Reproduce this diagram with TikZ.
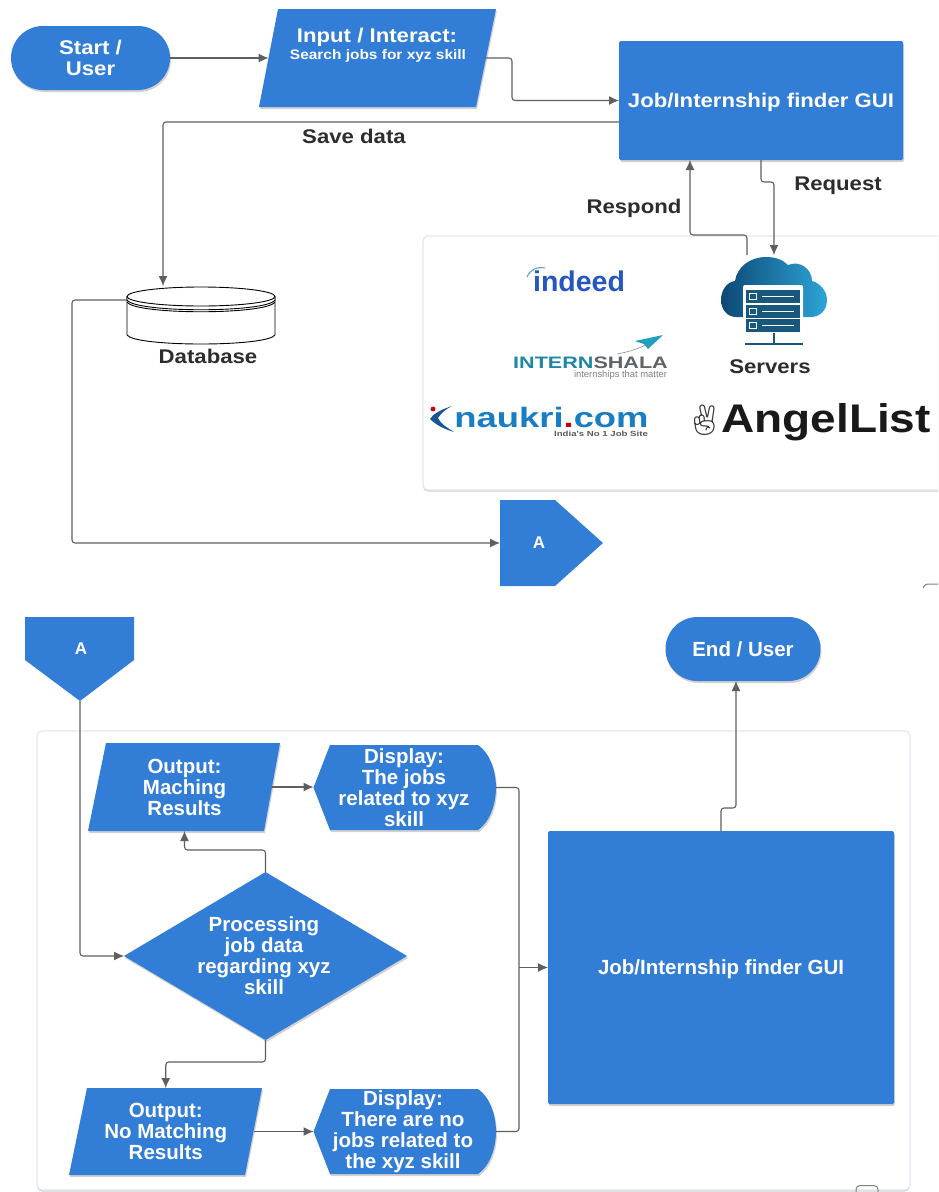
\documentclass[tikz,border=0pt]{standalone}
\usepackage{fontspec}
\setmainfont{Liberation Sans}
\newfontfamily\emojifont{Noto Emoji}
\newfontfamily\widefont[FakeStretch=1.12]{Liberation Sans}
\newfontfamily\logofont[FakeStretch=1.3]{Liberation Sans}
\newfontfamily\angelfont[FakeStretch=1.15]{Liberation Sans}
\usetikzlibrary{arrows.meta,shapes.geometric,shapes.misc,shadows}
\definecolor{flowblue}{RGB}{50,125,214}
\definecolor{connline}{RGB}{95,95,95}
\definecolor{panelline}{RGB}{226,232,238}
\definecolor{labelink}{RGB}{45,45,45}
\definecolor{cloudA}{RGB}{12,72,118}
\definecolor{cloudB}{RGB}{45,165,215}
\definecolor{rack}{RGB}{25,88,125}
\definecolor{indeedblue}{RGB}{38,87,190}
\definecolor{internteal}{RGB}{30,135,165}
\definecolor{interngray}{RGB}{95,100,105}
\definecolor{planeteal}{RGB}{30,160,190}
\definecolor{naukriblue}{RGB}{25,125,195}
\definecolor{swoosh}{RGB}{25,85,150}
\tikzset{
  softshadow/.style={drop shadow={shadow xshift=1pt,shadow yshift=-2pt,opacity=.18,fill=black}},
  blueshape/.style={fill=flowblue,draw=none,softshadow,inner sep=0pt,outer sep=0pt},
  conn/.style={draw=connline,line width=1.1pt,rounded corners=3pt,-{Latex[length=10pt,width=9pt]}},
  connplain/.style={draw=connline,line width=1.1pt,rounded corners=3pt},
  wt/.style={text=white,font=\fontsize{20.5}{21}\selectfont\bfseries,align=center,inner sep=0pt},
  wtup/.style={text=white,font=\widefont\fontsize{19.8}{21}\selectfont\bfseries,align=center,inner sep=0pt},
  lbl/.style={text=labelink,font=\widefont\fontsize{19.8}{21}\selectfont\bfseries,align=center,inner sep=0pt},
  panel/.style={fill=white,draw=panelline,line width=1.2pt,rounded corners=5pt,drop shadow={shadow xshift=0pt,shadow yshift=-1.5pt,opacity=.18,fill=black}},
  parabox/.style={rectangle,outer sep=0pt},
  terminator/.style={blueshape,rounded rectangle,minimum width=155pt,minimum height=64pt},
  boxnode/.style={blueshape,rectangle,rounded corners=1.5pt,text depth=0pt},
}
\newcommand{\displayshape}[2]{% centre y, half height
  \path[fill=flowblue,softshadow]
    (330,#1-#2) -- (478,#1-#2) .. controls (490,#1-#2+8) and (496,#1-16) .. (496,#1)
    .. controls (496,#1+16) and (490,#1+#2-8) .. (478,#1+#2) -- (330,#1+#2) -- (313.5,#1) -- cycle;}
\begin{document}
\begin{tikzpicture}[x=1pt,y=-1pt]
\clip (0,0) rectangle (938,1192);
\fill[white] (0,0) rectangle (938,1192);

% panels
\path[panel] (423,236) rectangle (960,490);
\path[panel] (37,731) rectangle (910,1190);

% stray marks
\draw[connline!80,line width=1pt,rounded corners=3pt] (923,588) -- (925,584) -- (938,584);
\draw[connline!80,line width=1pt,rounded corners=4pt] (856,1196) -- (856,1185.5) -- (878,1185.5) -- (878,1196);

% top flow
\node[terminator,wtup,minimum width=159pt] (start) at (90.5,58) {Start /\\User};
\path[fill=flowblue,softshadow] (278,9) -- (496,9) -- (476,107) -- (259,107) -- cycle;
\node[parabox,inner sep=0pt,minimum width=217.5pt,minimum height=98pt] (input) at (377.25,58) {};
\node[wtup] (inputa) at (377,37) {Input / Interact:};
\node[text=white,font=\widefont\fontsize{13.8}{15}\selectfont\bfseries,inner sep=0pt] (inputb) at (378,56) {Search jobs for xyz skill};
\node[boxnode,wtup,text depth=0pt,minimum width=284pt,minimum height=119pt] (gui) at (761,100.5) {Job/Internship finder GUI};
\node[lbl] (savedata) at (354,136) {Save data};
\node[lbl] (request) at (838,186) {Request};
\node[lbl] (respond) at (634,208) {Respond};

% database
\node[inner sep=0pt,minimum width=148pt,minimum height=58pt] (db) at (201,315.5) {};
\path[fill=white,draw=black,line width=.9pt]
  (127,297) -- (127,335) .. controls (135,347) and (267,347) .. (275,335) -- (275,297);
\path[fill=white,draw=black,line width=.9pt] (127,300) .. controls (135,313) and (267,313) .. (275,300) -- (275,297) -- (127,297) -- cycle;
\draw[black,line width=.9pt] (127,302) .. controls (135,315) and (267,315) .. (275,302);
\path[fill=white,draw=black,line width=.9pt] (201,296.5) ellipse (74 and 9.5);
\node[lbl] (dblabel) at (208,356) {Database};
\coordinate (dbin) at (163,286);
\coordinate (dbout) at (127,300);

% off-page A (top)
\path[fill=flowblue] (500,500) -- (555,500) -- (603,543) -- (555,586) -- (500,586) -- cycle;
\node[wt,font=\fontsize{17}{20}\selectfont\bfseries] (aout) at (539,543) {A};
\coordinate (aoutin) at (500,543);

% cloud and servers
\shade[left color=cloudA,right color=cloudB]
  (736,317) .. controls (727,317) and (721,309) .. (721,300)
  .. controls (721,290) and (727,282) .. (735,281)
  .. controls (737,267) and (750,257) .. (766,257)
  .. controls (776,257) and (783,260) .. (788,265)
  .. controls (800,260) and (812,269) .. (812,281)
  .. controls (820,283) and (827,291) .. (827,300)
  .. controls (827,310) and (820,317) .. (811,317) -- cycle;
\fill[white,rounded corners=2pt] (743,285) rectangle (803,333);
\foreach \yy in {290,304.5,319}{
  \fill[rack] (746,\yy) rectangle (800,\yy+13);
  \draw[white,line width=1pt] (749,\yy+3.5) rectangle (756,\yy+9.5);
  \draw[white,line width=1pt] (762,\yy+6.5) -- (794,\yy+6.5);
}
\fill[white] (743,333) rectangle (803,350);
\draw[rack,line width=1.4pt] (774,333) -- (774,344);
\draw[rack,line width=1.4pt] (745,344) -- (803,344);
\node[inner sep=0pt,minimum width=106pt,minimum height=88pt] (servers) at (774,300) {};
\node[lbl] (serverslabel) at (770,367) {Servers};
\coordinate (srvin) at (774,255);
\coordinate (srvout) at (747,255);
\coordinate (guiout) at (761,160);
\coordinate (guiin) at (690,160);

% logos
\node[inner sep=0pt,text=indeedblue,font=\fontsize{28.5}{30}\selectfont\bfseries] (indeed) at (579,281) {indeed};
\draw[cyan!60!blue!70,line width=1pt] (527,277) .. controls (530,270) and (537,266) .. (545,268);
\node[inner sep=0pt,font=\logofont\fontsize{16.6}{18}\selectfont\bfseries] (intern) at (590.5,362.5)
  {\textcolor{internteal}{INTERN}\textcolor{interngray}{SHALA}};
\node[inner sep=0pt,text=gray,font=\fontsize{9.4}{10}\selectfont] (interntag) at (620.5,375) {internships that matter};
\fill[planeteal] (663,335) -- (635,341) -- (644,344) -- (648,349) -- cycle;
\draw[gray,line width=.5pt] (617,354) .. controls (628,352) and (638,349) .. (645,345);
\node[inner sep=0pt,text=naukriblue,font=\logofont\fontsize{28}{30}\selectfont\bfseries] (naukri) at (551.5,417)
  {naukri\textcolor{red!80!black}{.}com};
\node[inner sep=0pt,text=gray!70!black,font=\logofont\fontsize{7.4}{8}\selectfont\bfseries] (naukritag) at (601,434) {India's No 1 Job Site};
\fill[swoosh] (452,406) .. controls (440,410) and (433,414) .. (430,419) .. controls (436,425) and (444,429) .. (454,432)
  .. controls (446,427) and (440,423) .. (438,418) .. controls (441,413) and (446,409) .. (452,406) -- cycle;
\fill[red!80!black] (433,409) circle (2.4);
\node[inner sep=0pt,text=black!90,font=\angelfont\fontsize{40}{44}\selectfont\bfseries] (angel) at (826,422) {AngelList};
\node[inner sep=0pt,text=black!80,font=\emojifont\fontsize{30}{32}\selectfont] (hand) at (704.5,420) {^^^^270c};

% lower flow
\path[fill=flowblue] (25,617) -- (134,617) -- (134,660) -- (80,701) -- (25,660) -- cycle;
\node[wt,font=\fontsize{17}{20}\selectfont\bfseries] (ain) at (81,649) {A};
\coordinate (ainout) at (80,701);
\node[terminator,wt] (enduser) at (743,649) {End / User};

\path[fill=flowblue,softshadow] (106,743) -- (280,743) -- (264,831) -- (88,831) -- cycle;
\node[parabox,wt,minimum width=175pt,minimum height=88pt] (out1) at (184.5,787) {Output:\\Maching\\Results};
\path[fill=flowblue,softshadow] (87,1088) -- (262,1088) -- (245,1175) -- (69,1175) -- cycle;
\node[parabox,wt,minimum width=175.5pt,minimum height=87pt] (out2) at (165.75,1131.5) {Output:\\No Matching\\Results};
\node[blueshape,diamond,minimum width=283pt,minimum height=168pt] (proc) at (265.5,956) {\phantom{x}};
\node[wt] (proct) at (264,956) {Processing\\job data\\regarding xyz\\skill};

\displayshape{787.5}{42.5}
\coordinate (d1w) at (313.5,787);
\coordinate (d1e) at (496,787.5);
\node[wt] (d1t) at (404,787.5) {Display:\\The jobs\\related to xyz\\skill};
\displayshape{1131.5}{42.5}
\coordinate (d2w) at (313.5,1131.5);
\coordinate (d2e) at (496,1131.5);
\node[wt] (d2t) at (403,1131.5) {Display:\\There are no\\jobs related to\\the xyz skill};

\node[boxnode,wt,text depth=0pt,minimum width=346pt,minimum height=273pt] (gui2) at (721,967.5) {Job/Internship finder GUI};

% connectors
\draw[conn] (start.east) -- (input.west);
\draw[conn] (input.east) -- (512,58) -- (512,100.5) -- (gui.west);
\coordinate (guisave) at (619,122);
\draw[conn] (guisave) -- (163,122) -- (dbin);
\draw[conn] (guiout) -- (761,182) -- (774,182) -- (srvin);
\draw[conn] (srvout) -- (747,235) -- (690,235) -- (guiin);
\draw[conn] (dbout) -- (72,300) -- (72,543) -- (aoutin);
\draw[conn] (ainout) -- (80,956) -- (proc.west);
\draw[conn] (proc.north) -- (265.5,850) -- (184.5,850) -- (out1.south);
\draw[conn] (proc.south) -- (265.5,1062) -- (165.75,1062) -- (out2.north);
\draw[conn] (out1.east) -- (d1w);
\draw[conn] (out2.east) -- (d2w);
\draw[connplain] (d1e) -- (519,787.5) -- (519,967.5);
\draw[connplain] (d2e) -- (519,1131.5) -- (519,967.5);
\coordinate (merge) at (519,967.5);
\draw[conn] (merge) -- (gui2.west);
\draw[conn] (gui2.north) -- (721,808) -- (736,808) -- (736,681);
\end{tikzpicture}
\end{document}
